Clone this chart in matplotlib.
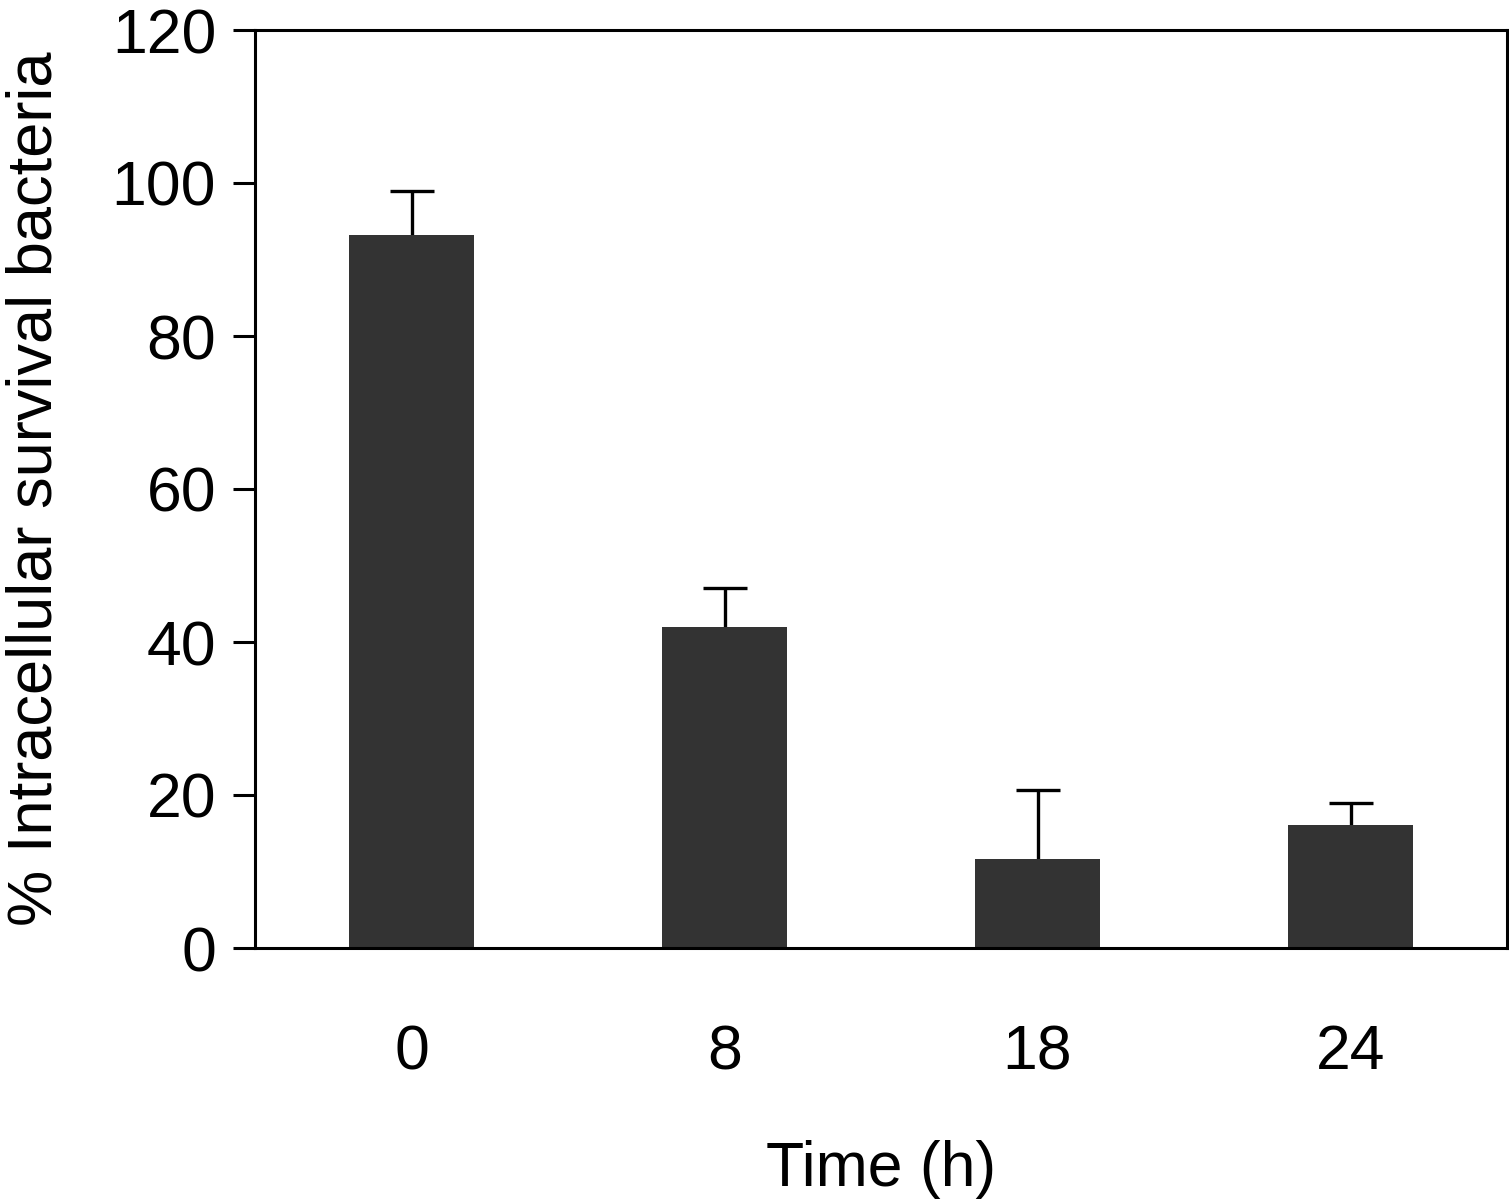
import numpy as np
import matplotlib
matplotlib.use("Agg")
import matplotlib.pyplot as plt

plt.rcParams['font.family'] = ['Liberation Sans', 'DejaVu Sans']

times = ['0', '8', '18', '24']
survival = [93.2, 41.9, 11.6, 16.1]
err = [5.7, 5.2, 9.1, 2.9]

fig = plt.figure(figsize=(15.09, 12), dpi=100)
ax = fig.add_axes([0.169, 0.21, 0.8297, 0.765])

x = np.arange(len(times))
ax.bar(x, survival, width=0.4, color='#333333', zorder=2)
eb = ax.errorbar(x, survival, yerr=[np.zeros(len(err)), err], fmt='none',
                 ecolor='black', elinewidth=2.4, capsize=16, capthick=2.4, zorder=1)
# hide the lower caps sitting on the bar tops
eb[1][0].set_visible(False)

ax.set_xlim(-0.5, 3.5)
ax.set_ylim(0, 120)
ax.set_yticks(np.arange(0, 121, 20))
ax.set_xticks(x)
ax.set_xticklabels(times)

for s in ax.spines.values():
    s.set_linewidth(2.2)
ax.tick_params(axis='y', length=16, width=2.2, labelsize=45, pad=12)
ax.tick_params(axis='x', length=0, labelsize=45, pad=54)

ax.set_ylabel('% Intracellular survival bacteria', fontsize=45.5, labelpad=34)
ax.set_xlabel('Time (h)', fontsize=45, labelpad=42)

fig.savefig('out.png', dpi=100)
